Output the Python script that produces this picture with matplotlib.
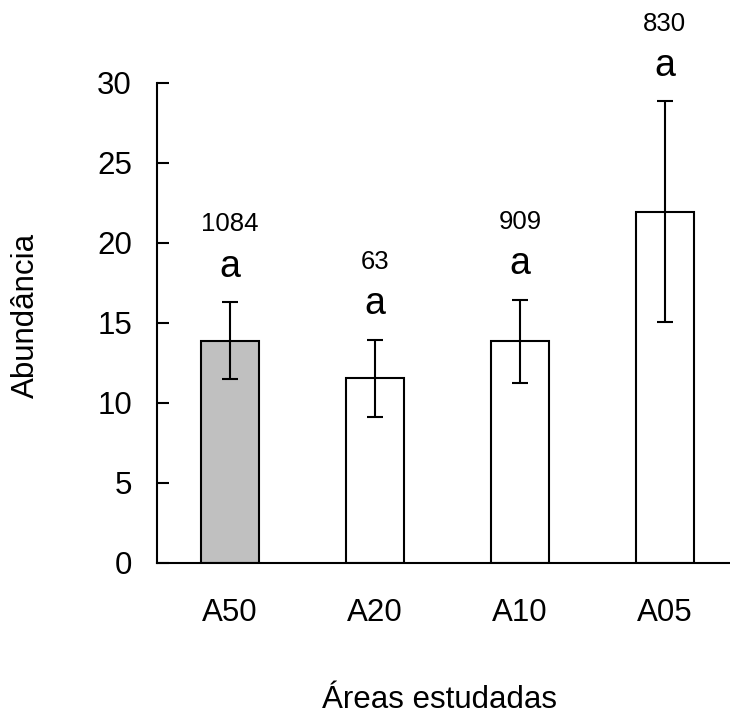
import numpy as np
import matplotlib
matplotlib.use('Agg')
import matplotlib.pyplot as plt

plt.rcParams['font.family'] = ['Liberation Sans', 'DejaVu Sans']

# data
areas = ['A50', 'A20', 'A10', 'A05']
abundancia = [13.9, 11.55, 13.85, 21.95]
erro = [2.4, 2.4, 2.6, 6.9]
n_indiv = ['1084', '63', '909', '830']
letras = ['a', 'a', 'a', 'a']
cores = ['#c0c0c0', 'white', 'white', 'white']

W, H = 730, 715
fig = plt.figure(figsize=(W / 100, H / 100), dpi=100)
# axes frame in pixels: left spine x=157, y=0 at 563, y=30 at 83
ax = fig.add_axes([157 / W, (H - 563) / H, (W - 157) / W, 480 / H])

x = np.arange(len(areas))
ax.bar(x, abundancia, width=0.4, color=cores, edgecolor='black', linewidth=1.5, zorder=2)
ax.errorbar(x, abundancia, yerr=erro, fmt='none', ecolor='black', elinewidth=1.5,
            capsize=5.5, capthick=1.5, zorder=3)

for xi, v, e, n, l in zip(x, abundancia, erro, n_indiv, letras):
    ax.annotate(l, xy=(xi, v + e), xytext=(0, 18.5), textcoords='offset points',
                ha='center', va='baseline', fontsize=27, annotation_clip=False)
    ax.annotate(n, xy=(xi, v + e), xytext=(0, 51), textcoords='offset points',
                ha='center', va='baseline', fontsize=18.5, annotation_clip=False)

ax.set_xlim(-0.503, 3.45)
ax.set_ylim(0, 30)
ax.set_yticks([0, 5, 10, 15, 20, 25, 30])
ax.set_xticks(x)
ax.set_xticklabels(areas)

ax.spines['top'].set_visible(False)
ax.spines['right'].set_visible(False)
ax.spines['left'].set_linewidth(1.5)
ax.spines['bottom'].set_linewidth(1.5)

ax.tick_params(axis='y', direction='in', length=8.6, width=1.5, pad=18, labelsize=22.5)
ax.tick_params(axis='x', length=0, pad=25, labelsize=22.5)

ax.set_xlabel('Áreas estudadas', fontsize=22.5)
ax.xaxis.set_label_coords(440 / W, (H - 708) / H, transform=fig.transFigure)
ax.xaxis.label.set_va('baseline')
ax.set_ylabel('Abundância', fontsize=22.5)
ax.yaxis.set_label_coords(26 / W, (H - 315) / H, transform=fig.transFigure)
ax.yaxis.label.set_va('center')
ax.yaxis.label.set_ha('center')

fig.savefig('out.png', dpi=100)
